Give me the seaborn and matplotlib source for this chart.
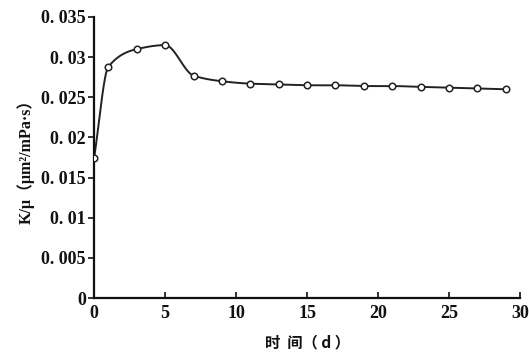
import numpy as np
import pandas as pd
import matplotlib
matplotlib.use("Agg")
import matplotlib.pyplot as plt
import seaborn as sns

# data
days = [0, 1, 3, 5, 7, 9, 11, 13, 15, 17, 19, 21, 23, 25, 27, 29]
k_mu = [0.0175, 0.0288, 0.0310, 0.0315, 0.0277, 0.0270, 0.0267, 0.0266,
        0.0265, 0.0265, 0.0264, 0.0264, 0.0263, 0.0262, 0.0261, 0.0260]
x_ticks = [0, 5, 10, 15, 20, 25, 30]
y_ticks = [0, 0.005, 0.01, 0.015, 0.02, 0.025, 0.03, 0.035]
y_tick_labels = ["0", "0. 005", "0. 01", "0. 015", "0. 02", "0. 025", "0. 03", "0. 035"]
x_label = "时  间（ d ）"
y_label = "K/μ（μm²/mPa·s）"

sns.set_theme(style="white")
plt.rcParams['font.family'] = ['Liberation Serif', 'Noto Sans CJK SC', 'DejaVu Sans']

df = pd.DataFrame({"day": days, "k": k_mu})

fig = plt.figure(figsize=(5.29, 3.54), dpi=100)
ax = fig.add_axes([0.178, 0.158, 0.805, 0.794])

# smooth monotone (Fritsch-Carlson) rendering of the line through the points
x = np.asarray(df["day"], float)
y = np.asarray(df["k"], float)
h = np.diff(x)
d = np.diff(y) / h
m = np.zeros_like(y)
m[0] = d[0]
m[-1] = d[-1]
for i in range(1, len(y) - 1):
    if d[i-1] * d[i] <= 0:
        m[i] = 0.0
    else:
        w1 = 2 * h[i] + h[i-1]
        w2 = h[i] + 2 * h[i-1]
        m[i] = (w1 + w2) / (w1 / d[i-1] + w2 / d[i])
sx, sy = [], []
t = np.linspace(0, 1, 40)
for i in range(len(x) - 1):
    h00 = 2*t**3 - 3*t**2 + 1; h10 = t**3 - 2*t**2 + t
    h01 = -2*t**3 + 3*t**2; h11 = t**3 - t**2
    sx.extend(x[i] + t * h[i])
    sy.extend(h00*y[i] + h10*h[i]*m[i] + h01*y[i+1] + h11*h[i]*m[i+1])
smooth = pd.DataFrame({"day": sx, "k": sy})

sns.lineplot(data=smooth, x="day", y="k", ax=ax, color="#222222", linewidth=1.4,
             sort=False, estimator=None)
sns.scatterplot(data=df, x="day", y="k", ax=ax, marker="o", s=22,
                facecolor="white", edgecolor="#222222", linewidth=1.1, zorder=3)

ax.set_xlim(0, 30)
ax.set_ylim(0, 0.035)
ax.set_xticks(x_ticks)
ax.set_xticklabels([str(v) for v in x_ticks])
ax.set_yticks(y_ticks)
ax.set_yticklabels(y_tick_labels)

for s in ["top", "right"]:
    ax.spines[s].set_visible(False)
for s in ["left", "bottom"]:
    ax.spines[s].set_color("#111111")
    ax.spines[s].set_linewidth(1.6)

ax.tick_params(axis="x", direction="in", length=4, width=1.2, colors="#111111",
               labelsize=13, pad=5, bottom=True)
ax.tick_params(axis="y", direction="out", length=4, width=1.2, colors="#111111",
               labelsize=13, pad=2, left=True)
for lab in ax.get_xticklabels() + ax.get_yticklabels():
    lab.set_fontweight("bold")
    lab.set_color("#111111")

ax.set_xlabel(x_label, fontsize=11, fontweight="bold", color="#111111",
              family=["Noto Sans CJK SC", "DejaVu Sans"], labelpad=9)
ax.set_ylabel(y_label, fontsize=11.5, fontweight="bold", color="#111111",
              family=["Liberation Serif", "Noto Sans CJK SC", "DejaVu Sans"], labelpad=5)

fig.savefig("out.png", dpi=100)
